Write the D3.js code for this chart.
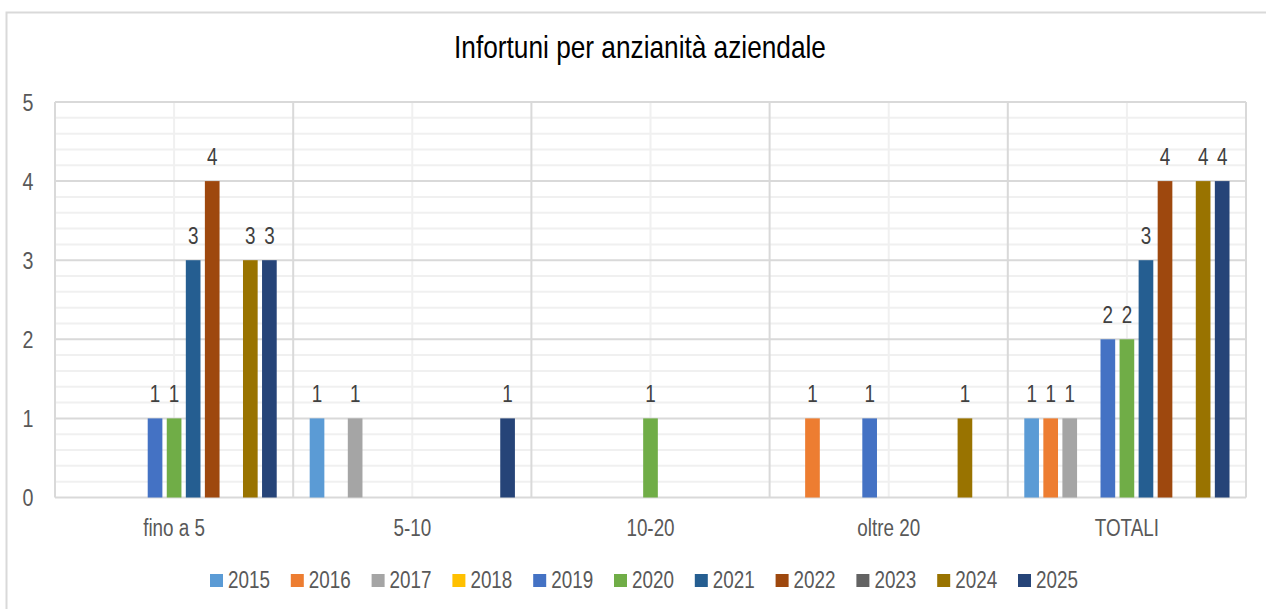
<!DOCTYPE html>
<html lang="it">
<head>
<meta charset="UTF-8">
<title>Infortuni per anzianità aziendale</title>
<script src="https://d3js.org/d3.v7.min.js"></script>
<style>
    body { margin: 0; background: #fff; }
    svg text { font-family: "Liberation Sans", Arial, sans-serif; }
</style>
</head>
<body>
<div id="chart"></div>
<script>

// categories and one value list per year (null = empty cell)
var categories = ['fino a 5', '5-10', '10-20', 'oltre 20', 'TOTALI'];
var years = ['2015', '2016', '2017', '2018', '2019', '2020', '2021', '2022', '2023', '2024', '2025'];

var v2015 = [null, 1, null, null, 1];
var v2016 = [null, null, null, 1, 1];
var v2017 = [null, 1, null, null, 1];
var v2018 = [null, null, null, null, null];
var v2019 = [1, null, null, 1, 2];
var v2020 = [1, null, 1, null, 2];
var v2021 = [3, null, null, null, 3];
var v2022 = [4, null, null, null, 4];
var v2023 = [null, null, null, null, null];
var v2024 = [3, null, null, 1, 4];
var v2025 = [3, 1, null, null, 4];

var yTicks = [0, 1, 2, 3, 4, 5];
var colors = ['#5b9bd5', '#ed7d31', '#a5a5a5', '#ffc000', '#4472c4', '#70ad47',
              '#255e91', '#9e480e', '#636363', '#997300', '#264478'];

var series = [v2015, v2016, v2017, v2018, v2019, v2020, v2021, v2022, v2023, v2024, v2025];

var width = 1266, height = 609;
var margin = {top: 102, left: 55, right: 20, bottom: 111.5};
var plotW = width - margin.left - margin.right;
var plotH = height - margin.top - margin.bottom;
var squeeze = 0.82; // narrow look (Arial Narrow not installed)

// text placed inside a horizontally squeezed group
function narrowText(sel, fx, fy) {
    return sel.append('g')
        .attr('transform', function (d, i) {
            return 'translate(' + fx(d, i) + ',' + fy(d, i) + ') scale(' + squeeze + ',1)';
        })
        .append('text');
}

var svg = d3.select('#chart').append('svg')
    .attr('width', width)
    .attr('height', height);

// outer chart frame (cut off at right and bottom)
svg.append('path')
    .attr('d', 'M6.5,' + height + 'V12.5H' + width)
    .attr('fill', 'none')
    .attr('stroke', '#d9d9d9')
    .attr('stroke-width', 2);

narrowText(svg.append('g').datum('t'), function () { return 640; }, function () { return 58; })
    .attr('text-anchor', 'middle')
    .style('font-size', '32px')
    .style('fill', '#000')
    .text('Infortuni per anzianità aziendale');

var g = svg.append('g').attr('transform', 'translate(' + margin.left + ',' + margin.top + ')');

var x0 = d3.scaleBand().domain(categories).range([0, plotW]).padding(0);
var x1 = d3.scaleBand().domain(years).range([0, x0.bandwidth()])
    .paddingInner(0.23).paddingOuter(0.865);
var y = d3.scaleLinear().domain([0, 5]).range([plotH, 0]);

// minor gridlines
var minor = d3.range(0, 5.001, 0.2).filter(function (d) { return Math.abs(d - Math.round(d)) > 0.01; });
g.selectAll('line.minor-h').data(minor).enter().append('line')
    .attr('x1', 0).attr('x2', plotW)
    .attr('y1', function (d) { return y(d); }).attr('y2', function (d) { return y(d); })
    .attr('stroke', '#f0f0f0').attr('stroke-width', 2);

g.selectAll('line.minor-v').data(categories).enter().append('line')
    .attr('x1', function (d) { return x0(d) + x0.bandwidth() / 2; })
    .attr('x2', function (d) { return x0(d) + x0.bandwidth() / 2; })
    .attr('y1', 0).attr('y2', plotH)
    .attr('stroke', '#f0f0f0').attr('stroke-width', 2);

// major gridlines
g.selectAll('line.major-h').data(yTicks).enter().append('line')
    .attr('x1', 0).attr('x2', plotW)
    .attr('y1', function (d) { return y(d); }).attr('y2', function (d) { return y(d); })
    .attr('stroke', '#d9d9d9').attr('stroke-width', 2);

var bounds = categories.map(function (d) { return x0(d); }).concat([plotW]);
g.selectAll('line.major-v').data(bounds).enter().append('line')
    .attr('x1', function (d) { return d; }).attr('x2', function (d) { return d; })
    .attr('y1', 0).attr('y2', plotH)
    .attr('stroke', '#d9d9d9').attr('stroke-width', 2);

// y tick labels
narrowText(g.selectAll('g.ytick').data(yTicks).enter().append('g'),
        function () { return -27; }, function (d) { return y(d); })
    .attr('dy', '0.36em')
    .attr('text-anchor', 'middle')
    .style('font-size', '24px')
    .style('fill', '#595959')
    .text(function (d) { return d; });

// category labels
narrowText(g.selectAll('g.cat').data(categories).enter().append('g'),
        function (d) { return x0(d) + x0.bandwidth() / 2; }, function () { return plotH + 38; })
    .attr('text-anchor', 'middle')
    .style('font-size', '23px')
    .style('fill', '#595959')
    .text(function (d) { return d; });

// bars
var cells = [];
series.forEach(function (vals, si) {
    vals.forEach(function (v, ci) {
        if (v !== null && v > 0) cells.push({cat: categories[ci], year: years[si], value: v, color: colors[si]});
    });
});

g.selectAll('rect.bar').data(cells).enter().append('rect')
    .attr('x', function (d) { return x0(d.cat) + x1(d.year); })
    .attr('y', function (d) { return y(d.value); })
    .attr('width', x1.bandwidth())
    .attr('height', function (d) { return y(0) - y(d.value); })
    .attr('fill', function (d) { return d.color; });

narrowText(g.selectAll('g.val').data(cells).enter().append('g'),
        function (d) { return x0(d.cat) + x1(d.year) + x1.bandwidth() / 2; },
        function (d) { return y(d.value) - 16; })
    .attr('text-anchor', 'middle')
    .style('font-size', '23px')
    .style('fill', '#404040')
    .text(function (d) { return d.value; });

// legend
var legend = svg.append('g').attr('transform', 'translate(210,574)');
var item = legend.selectAll('g.item').data(years).enter().append('g')
    .attr('class', 'item')
    .attr('transform', function (d, i) { return 'translate(' + (i * 80.8) + ',0)'; });
item.append('rect')
    .attr('width', 13).attr('height', 13)
    .attr('fill', function (d, i) { return colors[i]; });
narrowText(item, function () { return 18; }, function () { return 13.5; })
    .style('font-size', '23px')
    .style('fill', '#595959')
    .text(function (d) { return d; });

</script>
</body>
</html>
